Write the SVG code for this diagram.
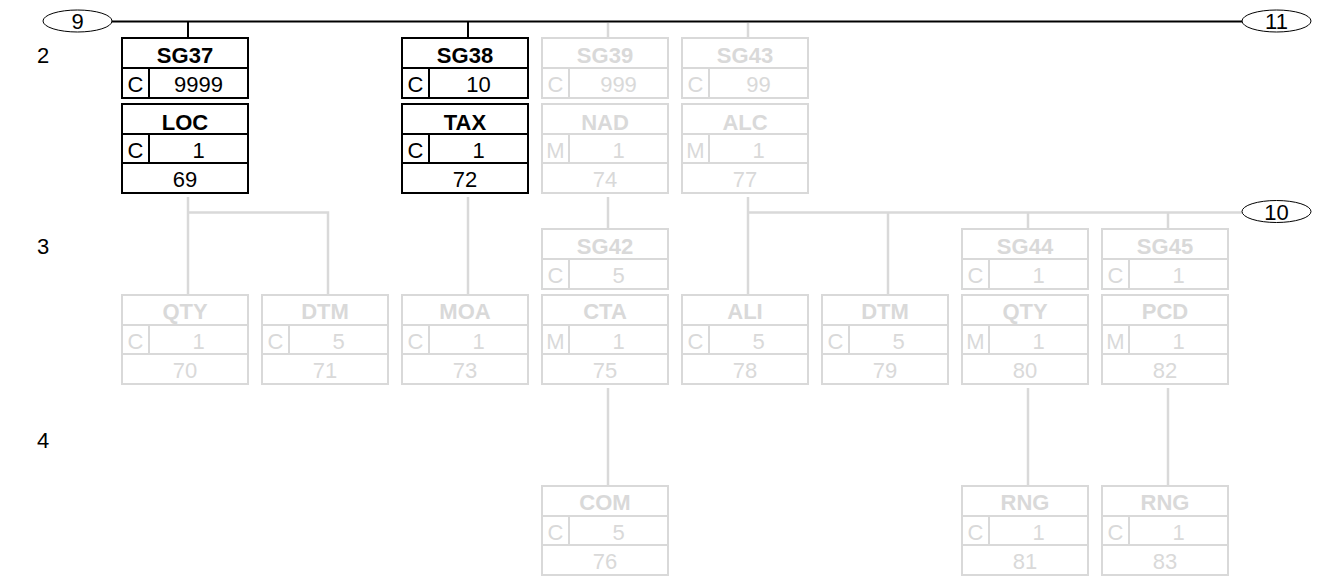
<svg xmlns="http://www.w3.org/2000/svg" width="1317" height="579" viewBox="0 0 1317 579">
<style>
text{font-family:"Liberation Sans",Arial,sans-serif;font-size:22px;text-anchor:middle;stroke:none}
.b{stroke:#000;fill:#000}
.g{stroke:#d9d9d9;fill:#d9d9d9}
.h{font-weight:bold}
.ck{stroke:#000;stroke-width:2;fill:none}
.cg{stroke:#d9d9d9;stroke-width:2.5;fill:none}
.ov{fill:#fff;stroke:#000;stroke-width:1}
.lbl{text-anchor:start;fill:#000}
</style>
<defs>
<g id="sgb" stroke-width="2"><rect x="0" y="0" width="126" height="60" fill="#fff"/><line x1="0" y1="30" x2="126" y2="30"/><line x1="27" y1="30" x2="27" y2="60"/></g>
<g id="segb" stroke-width="2"><rect x="0" y="0" width="126" height="89" fill="#fff"/><line x1="0" y1="30" x2="126" y2="30"/><line x1="0" y1="59" x2="126" y2="59"/><line x1="27" y1="30" x2="27" y2="59"/></g>
</defs>
<g id="connectors">
<line class="ck" x1="111" y1="21.5" x2="1243" y2="21.5"/>
<line class="ck" x1="188" y1="21.5" x2="188" y2="38"/>
<line class="ck" x1="468" y1="21.5" x2="468" y2="38"/>
<line class="cg" x1="608" y1="23" x2="608" y2="38"/>
<line class="cg" x1="748" y1="23" x2="748" y2="38"/>
<path class="cg" d="M188 197V295M188 212.5H328V295"/>
<path class="cg" d="M468 197V295"/>
<path class="cg" d="M608 197V229"/>
<path class="cg" d="M748 197V295M748 212.5H1242M888 212.5V295M1028 212.5V229M1168 212.5V229"/>
<path class="cg" d="M608 388V486M1028 388V486M1168 388V486"/>
</g>
<g id="oval9"><ellipse class="ov" cx="77.5" cy="21" rx="34.5" ry="11"/><text x="77.5" y="29" fill="#000">9</text></g>
<g id="oval11"><ellipse class="ov" cx="1276.5" cy="21" rx="34.5" ry="11"/><text x="1276.5" y="29" fill="#000">11</text></g>
<g id="oval10"><ellipse class="ov" cx="1276.5" cy="211.5" rx="34.5" ry="11"/><text x="1276.5" y="219.5" fill="#000">10</text></g>
<g id="labels">
<text class="lbl" x="37" y="62.5">2</text>
<text class="lbl" x="37" y="253.5">3</text>
<text class="lbl" x="37" y="447.5">4</text>
</g>
<g id="SG37" class="b" transform="translate(122,38)"><use href="#sgb"/><text class="h" x="63" y="25">SG37</text><text x="13.5" y="54">C</text><text x="76.5" y="54">9999</text></g>
<g id="LOC" class="b" transform="translate(122,104)"><use href="#segb"/><text class="h" x="63" y="26">LOC</text><text x="13.5" y="54">C</text><text x="76.5" y="54">1</text><text x="63" y="83">69</text></g>
<g id="SG38" class="b" transform="translate(402,38)"><use href="#sgb"/><text class="h" x="63" y="25">SG38</text><text x="13.5" y="54">C</text><text x="76.5" y="54">10</text></g>
<g id="TAX" class="b" transform="translate(402,104)"><use href="#segb"/><text class="h" x="63" y="26">TAX</text><text x="13.5" y="54">C</text><text x="76.5" y="54">1</text><text x="63" y="83">72</text></g>
<g id="SG39" class="g" transform="translate(542,38)"><use href="#sgb"/><text class="h" x="63" y="25">SG39</text><text x="13.5" y="54">C</text><text x="76.5" y="54">999</text></g>
<g id="NAD" class="g" transform="translate(542,104)"><use href="#segb"/><text class="h" x="63" y="26">NAD</text><text x="13.5" y="54">M</text><text x="76.5" y="54">1</text><text x="63" y="83">74</text></g>
<g id="SG43" class="g" transform="translate(682,38)"><use href="#sgb"/><text class="h" x="63" y="25">SG43</text><text x="13.5" y="54">C</text><text x="76.5" y="54">99</text></g>
<g id="ALC" class="g" transform="translate(682,104)"><use href="#segb"/><text class="h" x="63" y="26">ALC</text><text x="13.5" y="54">M</text><text x="76.5" y="54">1</text><text x="63" y="83">77</text></g>
<g id="QTY70" class="g" transform="translate(122,295)"><use href="#segb"/><text class="h" x="63" y="24">QTY</text><text x="13.5" y="54">C</text><text x="76.5" y="54">1</text><text x="63" y="83">70</text></g>
<g id="DTM71" class="g" transform="translate(262,295)"><use href="#segb"/><text class="h" x="63" y="24">DTM</text><text x="13.5" y="54">C</text><text x="76.5" y="54">5</text><text x="63" y="83">71</text></g>
<g id="MOA" class="g" transform="translate(402,295)"><use href="#segb"/><text class="h" x="63" y="24">MOA</text><text x="13.5" y="54">C</text><text x="76.5" y="54">1</text><text x="63" y="83">73</text></g>
<g id="SG42" class="g" transform="translate(542,229)"><use href="#sgb"/><text class="h" x="63" y="25">SG42</text><text x="13.5" y="54">C</text><text x="76.5" y="54">5</text></g>
<g id="CTA" class="g" transform="translate(542,295)"><use href="#segb"/><text class="h" x="63" y="24">CTA</text><text x="13.5" y="54">M</text><text x="76.5" y="54">1</text><text x="63" y="83">75</text></g>
<g id="ALI" class="g" transform="translate(682,295)"><use href="#segb"/><text class="h" x="63" y="24">ALI</text><text x="13.5" y="54">C</text><text x="76.5" y="54">5</text><text x="63" y="83">78</text></g>
<g id="DTM79" class="g" transform="translate(822,295)"><use href="#segb"/><text class="h" x="63" y="24">DTM</text><text x="13.5" y="54">C</text><text x="76.5" y="54">5</text><text x="63" y="83">79</text></g>
<g id="SG44" class="g" transform="translate(962,229)"><use href="#sgb"/><text class="h" x="63" y="25">SG44</text><text x="13.5" y="54">C</text><text x="76.5" y="54">1</text></g>
<g id="QTY80" class="g" transform="translate(962,295)"><use href="#segb"/><text class="h" x="63" y="24">QTY</text><text x="13.5" y="54">M</text><text x="76.5" y="54">1</text><text x="63" y="83">80</text></g>
<g id="SG45" class="g" transform="translate(1102,229)"><use href="#sgb"/><text class="h" x="63" y="25">SG45</text><text x="13.5" y="54">C</text><text x="76.5" y="54">1</text></g>
<g id="PCD" class="g" transform="translate(1102,295)"><use href="#segb"/><text class="h" x="63" y="24">PCD</text><text x="13.5" y="54">M</text><text x="76.5" y="54">1</text><text x="63" y="83">82</text></g>
<g id="COM" class="g" transform="translate(542,486)"><use href="#segb"/><text class="h" x="63" y="24">COM</text><text x="13.5" y="54">C</text><text x="76.5" y="54">5</text><text x="63" y="83">76</text></g>
<g id="RNG81" class="g" transform="translate(962,486)"><use href="#segb"/><text class="h" x="63" y="24">RNG</text><text x="13.5" y="54">C</text><text x="76.5" y="54">1</text><text x="63" y="83">81</text></g>
<g id="RNG83" class="g" transform="translate(1102,486)"><use href="#segb"/><text class="h" x="63" y="24">RNG</text><text x="13.5" y="54">C</text><text x="76.5" y="54">1</text><text x="63" y="83">83</text></g>
</svg>
